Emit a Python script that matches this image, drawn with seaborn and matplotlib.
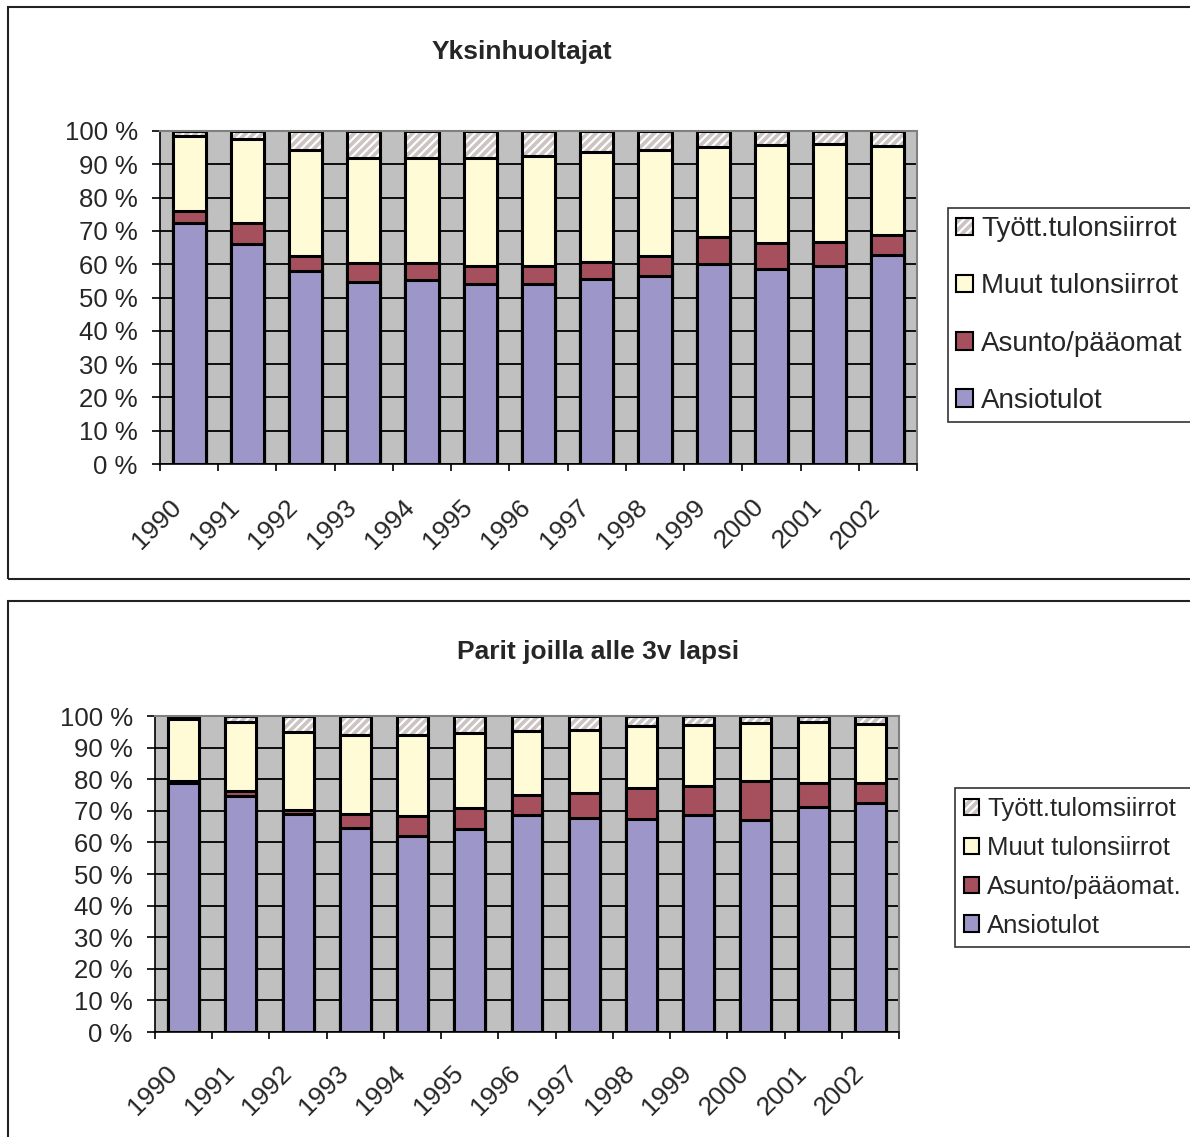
import seaborn as sns
import numpy as np
import pandas as pd
import matplotlib.pyplot as plt
from matplotlib.patches import Rectangle, Patch
from matplotlib.transforms import ScaledTranslation

years = [str(y) for y in range(1990, 2003)]

# Yksinhuoltajat, segment shares (%)
ansio_1 = [72.5, 66.0, 58.1, 54.8, 55.4, 54.2, 54.2, 55.6, 56.5, 60.2, 58.7, 59.5, 62.8]
asunto_1 = [3.5, 6.4, 4.5, 5.6, 5.0, 5.4, 5.3, 5.1, 5.9, 7.9, 7.8, 7.2, 6.0]
muut_1 = [22.5, 25.3, 31.6, 31.5, 31.4, 32.3, 33.1, 32.9, 31.8, 27.1, 29.2, 29.3, 26.6]
tyott_1 = [1.5, 2.3, 5.8, 8.1, 8.2, 8.1, 7.4, 6.4, 5.8, 4.8, 4.3, 4.0, 4.6]

# Parit joilla alle 3v lapsi, segment shares (%)
ansio_2 = [78.7, 74.8, 68.9, 64.5, 62.1, 64.2, 68.7, 67.6, 67.3, 68.7, 67.2, 71.2, 72.6]
asunto_2 = [0.7, 1.5, 1.4, 4.6, 6.4, 6.6, 6.2, 7.9, 9.8, 9.0, 12.2, 7.7, 6.3]
muut_2 = [19.8, 21.7, 24.5, 24.8, 25.6, 23.8, 20.4, 20.2, 19.6, 19.6, 18.5, 19.1, 18.7]
tyott_2 = [0.8, 2.0, 5.2, 6.1, 5.9, 5.4, 4.7, 4.3, 3.3, 2.7, 2.1, 2.0, 2.4]

labels_1 = ['Tyött.tulonsiirrot', 'Muut tulonsiirrot', 'Asunto/pääomat', 'Ansiotulot']
labels_2 = ['Tyött.tulomsiirrot', 'Muut tulonsiirrot', 'Asunto/pääomat.', 'Ansiotulot']

c_ansio = '#9D97C9'
c_asunto = '#A6505E'
c_muut = '#FFFBD7'
c_tyott = '#CCC4C2'

sns.set_style('white')
plt.rcParams['font.family'] = ['Liberation Sans', 'DejaVu Sans']
plt.rcParams['hatch.linewidth'] = 1.6


def draw(ax, ansio, asunto, muut, tyott, width, xoff, pad):
    df = pd.DataFrame({'year': years, 'ansio': ansio, 'asunto': asunto,
                       'muut': muut, 'tyott': tyott})
    df['c_asunto'] = df['ansio'] + df['asunto']
    df['c_muut'] = df['c_asunto'] + df['muut']
    df['c_tyott'] = df['c_muut'] + df['tyott']

    ax.set_facecolor('#C0C0C0')
    ax.set_axisbelow(True)
    ax.yaxis.grid(True, color='black', lw=1.3)

    # hatched top layer, then outline
    sns.barplot(data=df, x='year', y='c_tyott', color=c_tyott, hatch='////',
                edgecolor='white', linewidth=0, width=width, saturation=1, ax=ax)
    sns.barplot(data=df, x='year', y='c_tyott', color='black', fill=False,
                linewidth=2.2, width=width, ax=ax)
    for col, c in [('c_muut', c_muut), ('c_asunto', c_asunto), ('ansio', c_ansio)]:
        sns.barplot(data=df, x='year', y=col, color=c, edgecolor='black',
                    linewidth=2.2, width=width, saturation=1, ax=ax)

    ax.set_xlim(-0.5, 12.5)
    ax.set_ylim(0, 100)
    ax.set_xlabel('')
    ax.set_ylabel('')
    ax.set_yticks(range(0, 101, 10))
    ax.set_yticklabels([f'{v} %' for v in range(0, 101, 10)], fontsize=18.5)
    ax.set_xticks(range(13))
    ax.set_xticks(np.arange(-0.5, 13, 1), minor=True)
    ax.tick_params(axis='x', which='major', length=0, pad=pad, labelsize=19)
    ax.tick_params(axis='x', which='minor', length=5, width=1.2, color='black',
                   direction='out', bottom=True)
    ax.tick_params(axis='y', length=6, width=1.2, color='black', direction='out',
                   left=True, pad=10)
    for lab in ax.get_xticklabels():
        lab.set_rotation(45)
        lab.set_ha('right')
        lab.set_va('top')
        lab.set_rotation_mode('anchor')
        lab.set_transform(lab.get_transform() +
                          ScaledTranslation(xoff / 100, 0, ax.figure.dpi_scale_trans))
    for s in ['top', 'right']:
        ax.spines[s].set_color('#808080')
        ax.spines[s].set_linewidth(1.5)
    for s in ['left', 'bottom']:
        ax.spines[s].set_color('black')
        ax.spines[s].set_linewidth(1.2)


def handles(labels):
    hatch_h = (Patch(facecolor=c_tyott, edgecolor='white', hatch='////', lw=0),
               Patch(facecolor='none', edgecolor='black', lw=1.5))
    return [hatch_h,
            Patch(facecolor=c_muut, edgecolor='black', lw=1.5),
            Patch(facecolor=c_asunto, edgecolor='black', lw=1.5),
            Patch(facecolor=c_ansio, edgecolor='black', lw=1.5)]


fig = plt.figure(figsize=(11.9, 11.37), dpi=100)

# panel frames
fig.patches.append(Rectangle((8 / 1190, 1 - 579 / 1137), 1.2, 572 / 1137,
                             transform=fig.transFigure, fill=False,
                             edgecolor='#222222', lw=1.5))
fig.patches.append(Rectangle((8 / 1190, -0.2), 1.2, 0.2 + 1 - 601 / 1137,
                             transform=fig.transFigure, fill=False,
                             edgecolor='#222222', lw=1.5))

ax1 = fig.add_axes([160 / 1190, 1 - 464 / 1137, 757 / 1190, 333 / 1137])
draw(ax1, ansio_1, asunto_1, muut_1, tyott_1, 0.57, -20, 22)
ax2 = fig.add_axes([155 / 1190, 1 - 1032 / 1137, 744 / 1190, 316 / 1137])
draw(ax2, ansio_2, asunto_2, muut_2, tyott_2, 0.54, -19, 21)

fig.text(522 / 1190, 1 - 52 / 1137, 'Yksinhuoltajat', ha='center', va='center',
         fontsize=19, fontweight='bold')
fig.text(598 / 1190, 1 - 652 / 1137, 'Parit joilla alle 3v lapsi', ha='center',
         va='center', fontsize=19, fontweight='bold')

leg1 = fig.legend(handles(labels_1), labels_1, loc='upper left',
                  bbox_to_anchor=(948 / 1190, 1 - 208 / 1137), fontsize=20,
                  frameon=True, fancybox=False, edgecolor='black',
                  handlelength=0.6, handleheight=0.6, handletextpad=0.3,
                  labelspacing=1.12, borderpad=0.3, borderaxespad=0)
leg1.get_frame().set_linewidth(1.2)
leg2 = fig.legend(handles(labels_2), labels_2, loc='upper left',
                  bbox_to_anchor=(955 / 1190, 1 - 788 / 1137), fontsize=18.5,
                  frameon=True, fancybox=False, edgecolor='black',
                  handlelength=0.6, handleheight=0.6, handletextpad=0.3,
                  labelspacing=0.58, borderpad=0.35, borderaxespad=0)
leg2.get_frame().set_linewidth(1.2)

fig.savefig('out.png', dpi=100)
